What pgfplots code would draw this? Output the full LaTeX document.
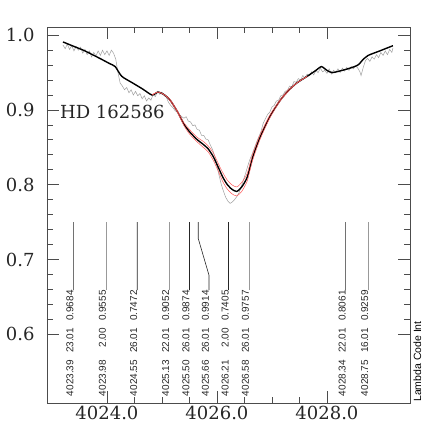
\documentclass[border=0pt]{standalone}
\usepackage{fontspec}
\setmainfont{DejaVu Serif}
\newfontfamily\lsans{Liberation Sans}
\usepackage{pgfplots}
\pgfplotsset{compat=1.18}
\begin{document}
\begin{tikzpicture}
\begin{axis}[
  name=ax,
  scale only axis,
  width=363pt, height=376pt,
  xmin=4022.91, xmax=4029.51,
  ymin=0.508, ymax=1.011,
  xtick={4024,4026,4028},
  minor x tick num=3,
  ytick={0.6,0.7,0.8,0.9,1.0},
  minor y tick num=4,
  tick align=inside,
  major tick length=12pt,
  minor tick length=6pt,
  axis line style={black!70, line width=0.8pt},
  every tick/.style={black!70, line width=0.8pt},
  scaled x ticks=false,
  scaled y ticks=false,
  /pgf/number format/assume math mode=true,
  xticklabel style={/pgf/number format/.cd, fixed, fixed zerofill, precision=1, 1000 sep={}, /tikz/.cd},
  yticklabel style={/pgf/number format/.cd, fixed, fixed zerofill, precision=1, /tikz/.cd, xshift=-9pt},
  tick label style={font=\fontsize{18}{20}\selectfont, text=black!85},
]
% observed spectrum
\addplot[gray!75, line width=0.5pt] coordinates {
(4023.20,0.987) (4023.24,0.982) (4023.28,0.988) (4023.32,0.981) (4023.36,0.986)
(4023.40,0.979) (4023.44,0.985) (4023.48,0.980) (4023.52,0.984) (4023.56,0.976)
(4023.60,0.981) (4023.64,0.974) (4023.68,0.979) (4023.72,0.971) (4023.76,0.977)
(4023.80,0.972) (4023.84,0.979) (4023.88,0.973) (4023.92,0.980) (4023.96,0.974)
(4024.00,0.979) (4024.04,0.973) (4024.08,0.980) (4024.12,0.976) (4024.16,0.968)
(4024.20,0.950) (4024.24,0.936) (4024.28,0.932) (4024.32,0.927) (4024.36,0.930)
(4024.40,0.923) (4024.44,0.927) (4024.48,0.920) (4024.52,0.925) (4024.56,0.919)
(4024.60,0.922) (4024.64,0.915) (4024.68,0.919) (4024.72,0.912) (4024.76,0.916)
(4024.80,0.913) (4024.84,0.921) (4024.88,0.918) (4024.92,0.925) (4024.96,0.921)
(4025.00,0.924) (4025.04,0.919) (4025.08,0.917) (4025.12,0.910) (4025.16,0.906)
(4025.20,0.903) (4025.24,0.899) (4025.28,0.897) (4025.32,0.894) (4025.36,0.891)
(4025.40,0.889) (4025.44,0.891) (4025.48,0.885) (4025.52,0.884) (4025.56,0.879)
(4025.60,0.880) (4025.64,0.874) (4025.68,0.873) (4025.72,0.866) (4025.76,0.866)
(4025.80,0.861) (4025.84,0.860) (4025.88,0.853) (4025.92,0.847) (4025.96,0.838)
(4026.00,0.825) (4026.04,0.812) (4026.08,0.800) (4026.12,0.791) (4026.16,0.783)
(4026.20,0.778) (4026.24,0.775) (4026.28,0.777) (4026.32,0.780) (4026.36,0.784)
(4026.40,0.789) (4026.44,0.797) (4026.48,0.806) (4026.52,0.815) (4026.56,0.825)
(4026.60,0.834) (4026.64,0.841) (4026.68,0.849) (4026.72,0.857) (4026.76,0.864)
(4026.80,0.871) (4026.84,0.882) (4026.88,0.888) (4026.92,0.894) (4026.96,0.897)
(4027.00,0.904) (4027.04,0.906) (4027.08,0.912) (4027.12,0.913) (4027.16,0.919)
(4027.20,0.920) (4027.24,0.925) (4027.28,0.926) (4027.32,0.932) (4027.36,0.931)
(4027.40,0.938) (4027.44,0.937) (4027.48,0.942) (4027.52,0.940) (4027.56,0.946)
(4027.60,0.943) (4027.64,0.948) (4027.68,0.946) (4027.72,0.951) (4027.76,0.947)
(4027.80,0.953) (4027.84,0.950) (4027.88,0.956) (4027.92,0.951) (4027.96,0.953)
(4028.00,0.949) (4028.04,0.955) (4028.08,0.948) (4028.12,0.953) (4028.16,0.950)
(4028.20,0.955) (4028.24,0.950) (4028.28,0.956) (4028.32,0.952) (4028.36,0.957)
(4028.40,0.953) (4028.44,0.958) (4028.48,0.955) (4028.52,0.959) (4028.56,0.956)
(4028.60,0.951) (4028.62,0.946) (4028.66,0.957) (4028.70,0.966) (4028.74,0.969)
(4028.78,0.965) (4028.82,0.971) (4028.86,0.968) (4028.90,0.974) (4028.94,0.970)
(4028.98,0.977) (4029.02,0.973) (4029.06,0.979) (4029.10,0.974) (4029.14,0.981)
(4029.18,0.977) (4029.20,0.983)
};
% synthetic spectrum
\addplot[black, line width=1.4pt, smooth, tension=0.4] coordinates {
(4023.20,0.991) (4023.40,0.985) (4023.60,0.979) (4023.87,0.969) (4024.05,0.962)
(4024.15,0.958) (4024.27,0.945) (4024.47,0.936) (4024.65,0.928) (4024.82,0.920)
(4024.93,0.924) (4025.05,0.920) (4025.15,0.913) (4025.28,0.898) (4025.40,0.881)
(4025.50,0.871) (4025.63,0.861) (4025.75,0.854) (4025.84,0.848) (4025.93,0.838)
(4026.02,0.824) (4026.10,0.811) (4026.18,0.801) (4026.27,0.794) (4026.36,0.791)
(4026.45,0.797) (4026.55,0.810) (4026.65,0.837) (4026.78,0.863) (4026.96,0.891)
(4027.15,0.913) (4027.30,0.926) (4027.45,0.936) (4027.64,0.945) (4027.80,0.953)
(4027.90,0.958) (4028.00,0.953) (4028.10,0.950) (4028.33,0.954) (4028.50,0.958)
(4028.58,0.961) (4028.65,0.967) (4028.75,0.973) (4028.96,0.979) (4029.20,0.986)
};
% fit envelope
\addplot[red!65, line width=0.5pt, smooth, tension=0.4] coordinates {
(4024.82,0.920) (4024.93,0.924) (4025.05,0.920) (4025.15,0.914) (4025.28,0.899)
(4025.40,0.883) (4025.50,0.874) (4025.63,0.864) (4025.75,0.858) (4025.84,0.852)
(4025.93,0.843) (4026.02,0.829) (4026.10,0.817) (4026.18,0.807) (4026.27,0.800)
(4026.36,0.797) (4026.45,0.803) (4026.55,0.815) (4026.65,0.841) (4026.78,0.866)
(4026.96,0.893) (4027.15,0.914) (4027.30,0.927) (4027.45,0.936) (4027.64,0.945)
};
\addplot[red!65, line width=0.5pt, smooth, tension=0.4] coordinates {
(4024.82,0.920) (4024.93,0.924) (4025.05,0.920) (4025.15,0.912) (4025.28,0.897)
(4025.40,0.879) (4025.50,0.868) (4025.63,0.858) (4025.75,0.850) (4025.84,0.844)
(4025.93,0.833) (4026.02,0.819) (4026.10,0.805) (4026.18,0.795) (4026.27,0.788)
(4026.36,0.785) (4026.45,0.791) (4026.55,0.805) (4026.65,0.833) (4026.78,0.860)
(4026.96,0.889) (4027.15,0.912) (4027.30,0.925) (4027.45,0.936) (4027.64,0.945)
};
% line identifications
\addplot[black!85, line width=0.6pt, unbounded coords=jump] coordinates {
(4023.39,0.659) (4023.39,0.750) (nan,nan)
(4024.55,0.659) (4024.55,0.750) (nan,nan)
(4025.50,0.659) (4025.50,0.750) (nan,nan)
(4025.855,0.659) (4025.855,0.679) (4025.66,0.728) (4025.66,0.750) (nan,nan)
(4026.21,0.659) (4026.21,0.750) (nan,nan)
(4028.34,0.659) (4028.34,0.750)
};
\addplot[gray!80, line width=0.6pt, unbounded coords=jump] coordinates {
(4023.98,0.659) (4023.98,0.750) (nan,nan)
(4025.13,0.659) (4025.13,0.750) (nan,nan)
(4026.58,0.659) (4026.58,0.750) (nan,nan)
(4028.75,0.659) (4028.75,0.750)
};
\addplot[only marks, mark=none, nodes near coords, point meta=explicit symbolic,
  nodes near coords style={rotate=90, anchor=base west, inner sep=0pt,
    font=\lsans\fontsize{10}{12}\selectfont, text=black!85}] coordinates {
(4023.39,0.517) [4023.39\hskip0.7em 23.01\hskip0.7em 0.9684]
(4023.98,0.517) [4023.98\hskip0.7em\phantom{2}2.00\hskip0.7em 0.9555]
(4024.55,0.517) [4024.55\hskip0.7em 26.01\hskip0.7em 0.7472]
(4025.13,0.517) [4025.13\hskip0.7em 22.01\hskip0.7em 0.9052]
(4025.50,0.517) [4025.50\hskip0.7em 26.01\hskip0.7em 0.9874]
(4025.855,0.517) [4025.66\hskip0.7em 26.01\hskip0.7em 0.9914]
(4026.21,0.517) [4026.21\hskip0.7em\phantom{2}2.00\hskip0.7em 0.7405]
(4026.58,0.517) [4026.58\hskip0.7em 26.01\hskip0.7em 0.9757]
(4028.34,0.517) [4028.34\hskip0.7em 22.01\hskip0.7em 0.8061]
(4028.75,0.517) [4028.75\hskip0.7em 16.01\hskip0.7em 0.9259]
};
\node[anchor=base west, inner sep=0pt, font=\fontsize{18}{20}\selectfont, text=black!85]
  at (axis cs:4023.145,0.889) {HD 162586};
\end{axis}
\node[rotate=90, anchor=base west, inner sep=0pt, font=\lsans\fontsize{10.5}{12}\selectfont]
  at ([xshift=11pt,yshift=1pt]ax.south east) {Lambda Code Int};
\path (ax.south west) ++(-47pt,-33pt) coordinate (bbA);
\path (ax.north east) ++(26pt,27pt) coordinate (bbB);
\path (bbA) rectangle (bbB);
\end{tikzpicture}
\end{document}
